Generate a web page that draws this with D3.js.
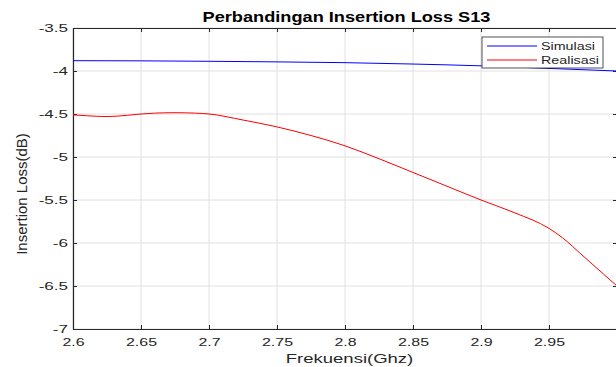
<!DOCTYPE html>
<html>
<head>
<meta charset="utf-8">
<script src="https://cdn.jsdelivr.net/npm/d3@7"></script>
<style>
  html, body { margin: 0; padding: 0; background: #fff; overflow: hidden; }
  svg { display: block; font-family: 'Liberation Sans', Arial, sans-serif; }
</style>
</head>
<body>
<div id="chart"></div>
<script>
const CHART = Object.freeze({ WIDTH: 616, HEIGHT: 367, LEFT: 73, TOP: 28, RIGHT: 617, BOTTOM: 329 })
// the reference text looks stretched sideways
const STRETCH = Object.freeze({ TICK: 1.45, YTICK: 1.55, TITLE: 1.3, LABEL: 1.37, LEGEND: 1.3 })

const simFreq = [2.6, 2.65, 2.7, 2.75, 2.8, 2.85, 2.9, 2.95, 3.0]
const simLoss = [-3.88, -3.882, -3.887, -3.894, -3.903, -3.919, -3.94, -3.97, -4.0]

const realFreq = [2.6, 2.61, 2.625, 2.64, 2.65, 2.66, 2.675, 2.69, 2.7, 2.725, 2.75, 2.775, 2.8, 2.825, 2.85, 2.875, 2.9, 2.925, 2.95, 2.96, 2.975, 2.99, 3.0]
const realLoss = [-4.51, -4.52, -4.53, -4.515, -4.5, -4.49, -4.485, -4.49, -4.5, -4.57, -4.65, -4.75, -4.87, -5.02, -5.18, -5.34, -5.5, -5.65, -5.83, -5.94, -6.15, -6.36, -6.5]

const xTicks = [2.6, 2.65, 2.7, 2.75, 2.8, 2.85, 2.9, 2.95, 3.0]
// label at 3 falls outside the picture in the reference
const xTickLabels = ['2.6', '2.65', '2.7', '2.75', '2.8', '2.85', '2.9', '2.95', '']
const yTicks = [-7, -6.5, -6, -5.5, -5, -4.5, -4, -3.5]
const yTickLabels = ['-7', '-6.5', '-6', '-5.5', '-5', '-4.5', '-4', '-3.5']

const seriesNames = ['Simulasi', 'Realisasi']
const seriesColors = ['#0000ff', '#ff0000']

const buildChart = () => {
  const xScale = d3.scaleLinear().domain([2.6, 3.0]).range([CHART.LEFT, CHART.RIGHT])
  const yScale = d3.scaleLinear().domain([-7, -3.5]).range([CHART.BOTTOM, CHART.TOP])

  const svg = d3.select('#chart').append('svg')
    .attr('width', CHART.WIDTH)
    .attr('height', CHART.HEIGHT)

  // grid
  svg.append('g').selectAll('line').data(xTicks).enter().append('line')
    .attr('x1', d => xScale(d)).attr('x2', d => xScale(d))
    .attr('y1', CHART.TOP).attr('y2', CHART.BOTTOM)
    .attr('stroke', '#e0e0e0').attr('stroke-width', 1)
  svg.append('g').selectAll('line').data(yTicks).enter().append('line')
    .attr('x1', CHART.LEFT).attr('x2', CHART.RIGHT)
    .attr('y1', d => yScale(d)).attr('y2', d => yScale(d))
    .attr('stroke', '#e0e0e0').attr('stroke-width', 1)

  const axisColor = '#262626'

  const xAxis = d3.axisBottom(xScale).tickValues(xTicks)
    .tickFormat((d, i) => xTickLabels[i]).tickSizeInner(-4).tickSizeOuter(0).tickPadding(9)
  const yAxis = d3.axisLeft(yScale).tickValues(yTicks)
    .tickFormat((d, i) => yTickLabels[i]).tickSizeInner(-4).tickSizeOuter(0)
  const xTop = d3.axisTop(xScale).tickValues(xTicks).tickFormat('').tickSizeInner(-4).tickSizeOuter(0)
  const yRight = d3.axisRight(yScale).tickValues(yTicks).tickFormat('').tickSizeInner(-4).tickSizeOuter(0)

  const styleAxis = g => {
    g.selectAll('path').attr('stroke', axisColor).attr('stroke-width', 1.2)
    g.selectAll('line').attr('stroke', axisColor)
    g.selectAll('text').attr('fill', axisColor).style('font-size', '11px')
  }

  svg.append('g').attr('transform', `translate(0, ${CHART.TOP})`).call(xTop).call(styleAxis)
  svg.append('g').attr('transform', `translate(${CHART.RIGHT}, 0)`).call(yRight).call(styleAxis)
  svg.append('g').attr('transform', `translate(0, ${CHART.BOTTOM})`).call(xAxis).call(styleAxis)
    .selectAll('text').attr('transform', `scale(${STRETCH.TICK}, 1)`)
  svg.append('g').attr('transform', `translate(${CHART.LEFT}, 0)`).call(yAxis).call(styleAxis)
    .selectAll('text')
    .attr('x', 0)
    .attr('transform', `translate(-5, 0) scale(${STRETCH.YTICK}, 1)`)

  const line = d3.line()
    .x(d => xScale(d[0]))
    .y(d => yScale(d[1]))
    .curve(d3.curveMonotoneX)

  const series = [
    d3.zip(simFreq, simLoss),
    d3.zip(realFreq, realLoss),
  ]

  svg.append('g').selectAll('path').data(series).enter().append('path')
    .attr('d', line)
    .attr('fill', 'none')
    .attr('stroke', (d, i) => seriesColors[i])
    .attr('stroke-width', 1)

  // title & labels
  svg.append('text')
    .attr('transform', `translate(346.5, 21.5) scale(${STRETCH.TITLE}, 1)`)
    .attr('text-anchor', 'middle')
    .style('font-size', '14px').style('font-weight', 'bold')
    .attr('fill', '#000')
    .text('Perbandingan Insertion Loss S13')

  svg.append('text')
    .attr('transform', `translate(349.5, 363) scale(${STRETCH.LABEL}, 1)`)
    .attr('text-anchor', 'middle')
    .style('font-size', '13.5px')
    .attr('fill', axisColor)
    .text('Frekuensi(Ghz)')

  svg.append('text')
    .attr('transform', 'translate(27, 194) rotate(-90)')
    .attr('text-anchor', 'middle')
    .style('font-size', '15px')
    .attr('fill', axisColor)
    .text('Insertion Loss(dB)')

  // legend
  const legend = svg.append('g').attr('transform', 'translate(482, 37)')
  legend.append('rect')
    .attr('width', 121).attr('height', 31)
    .attr('fill', '#fff').attr('stroke', axisColor).attr('stroke-width', 0.8)
  seriesNames.forEach((name, i) => {
    legend.append('line')
      .attr('x1', 5).attr('x2', 55)
      .attr('y1', 9 + i * 14).attr('y2', 9 + i * 14)
      .attr('stroke', seriesColors[i]).attr('stroke-width', 1)
    legend.append('text')
      .attr('transform', `translate(59, ${13 + i * 14}) scale(${STRETCH.LEGEND}, 1)`)
      .style('font-size', '11px')
      .attr('fill', axisColor)
      .text(name)
  })
}

document.addEventListener('DOMContentLoaded', () => {
  buildChart()
})
</script>
</body>
</html>
